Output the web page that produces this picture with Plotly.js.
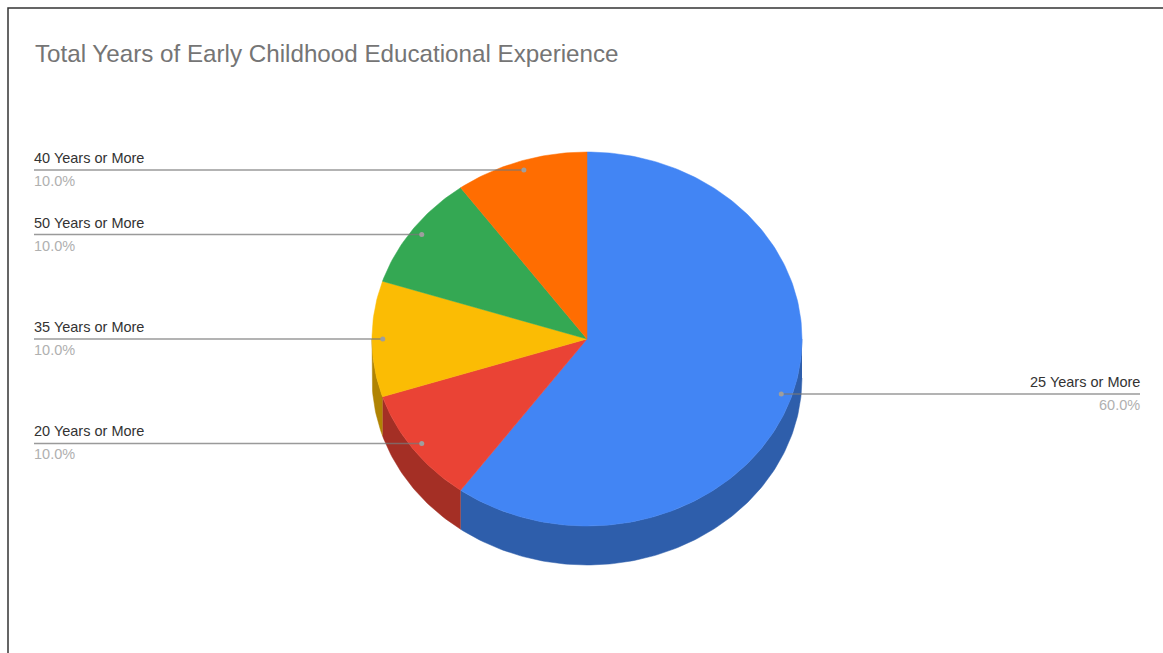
<!DOCTYPE html>
<html>
<head>
<meta charset="utf-8">
<script src="https://cdn.plot.ly/plotly-3.0.1.min.js"></script>
<style>html,body{margin:0;padding:0;background:#fff}#chart{width:1163px;height:653px}</style>
</head>
<body>
<div id="chart"></div>
<script>
// Share of respondents per experience band, clockwise from 12 o'clock.
const categories = ['25 Years or More', '20 Years or More', '35 Years or More', '50 Years or More', '40 Years or More'];
const shares = [60, 10, 10, 10, 10];
const topColors = ['#4285f4', '#ea4335', '#fbbc04', '#34a853', '#ff6d01'];
const wallColors = ['#2e5eab', '#a42f25', '#b08303', '#24753a', '#b34c01'];
const titleText = 'Total Years of Early Childhood Educational Experience';

// Tilted pie geometry, in plot units (the axes map 1:1 to the canvas).
const cx = 587, cy = 339, rx = 215, ry = 187, depth = 39;
const leaderPos = 0.95;      // where a leader dot sits along the radius
const labelLeft = 34, labelRight = 1140;

const total = shares.reduce((a, b) => a + b, 0);
const rimX = (deg, f = 1) => cx + f * rx * Math.sin(deg * Math.PI / 180);
const rimY = (deg, f = 1) => cy - f * ry * Math.cos(deg * Math.PI / 180);

function arc(a, b, drop = 0) {
  const xs = [], ys = [];
  const n = Math.max(2, Math.ceil(Math.abs(b - a)));
  for (let i = 0; i <= n; i++) {
    const d = a + (b - a) * i / n;
    xs.push(rimX(d));
    ys.push(rimY(d) + drop);
  }
  return [xs, ys];
}

const walls = [], faces = [], leaders = [], annotations = [];
let start = 0;
shares.forEach((v, i) => {
  const end = start + v / total * 360;

  // Side wall: only the front half of the rim (90..270 degrees) is visible.
  const a = Math.max(start, 90), b = Math.min(end, 270);
  if (b > a) {
    const [tx, ty] = arc(a, b);
    const [lx, ly] = arc(b, a, depth);
    walls.push({
      type: 'scatter', mode: 'lines', x: tx.concat(lx), y: ty.concat(ly),
      fill: 'toself', fillcolor: wallColors[i], line: {color: wallColors[i], width: 0.5},
      hoverinfo: 'skip', showlegend: false
    });
  }

  // Top face of the slice.
  const [fx, fy] = arc(start, end);
  faces.push({
    type: 'scatter', mode: 'lines', name: categories[i],
    x: [cx].concat(fx, [cx]), y: [cy].concat(fy, [cy]),
    fill: 'toself', fillcolor: topColors[i], line: {color: topColors[i], width: 0.5},
    hoverinfo: 'name', showlegend: false
  });

  // Leader line from the dot out to the label column.
  const mid = (start + end) / 2;
  const dx = rimX(mid, leaderPos), dy = rimY(mid, leaderPos);
  const onRight = mid < 180;
  const edge = onRight ? labelRight : labelLeft;
  leaders.push({
    type: 'scatter', mode: 'lines', x: [edge, dx], y: [dy, dy],
    line: {color: 'rgba(120,120,120,0.75)', width: 1.5},
    hoverinfo: 'skip', showlegend: false
  });
  leaders.push({
    type: 'scatter', mode: 'markers', x: [dx], y: [dy],
    marker: {color: '#9e9e9e', size: 5},
    hoverinfo: 'skip', showlegend: false
  });

  const anchor = onRight ? 'right' : 'left';
  const nudge = onRight ? 2 : -2;   // cancels the annotation box padding
  annotations.push({
    x: edge, y: dy, xref: 'x', yref: 'y', xanchor: anchor, yanchor: 'bottom', yshift: 2, xshift: nudge,
    text: categories[i], showarrow: false,
    font: {family: 'Liberation Sans, Arial, sans-serif', size: 14.5, color: '#333333'}
  });
  annotations.push({
    x: edge, y: dy, xref: 'x', yref: 'y', xanchor: anchor, yanchor: 'top', yshift: -1, xshift: nudge,
    text: (v / total * 100).toFixed(1) + '%', showarrow: false,
    font: {family: 'Liberation Sans, Arial, sans-serif', size: 14.5, color: '#b0b0b0'}
  });
  start = end;
});

annotations.push({
  x: 33, y: 53, xref: 'x', yref: 'y', xanchor: 'left', yanchor: 'middle',
  text: titleText, showarrow: false,
  font: {family: 'Liberation Sans, Arial, sans-serif', size: 24.2, color: '#757575'}
});

// Frame around the chart: top and left edges.
const frame = {
  type: 'scatter', mode: 'lines', x: [8, 8, 1163], y: [653, 8, 8],
  line: {color: '#333333', width: 1.5}, hoverinfo: 'skip', showlegend: false
};

const hiddenAxis = {visible: false, fixedrange: true};
Plotly.newPlot('chart', walls.concat(faces, leaders, [frame]), {
  width: 1163, height: 653,
  margin: {l: 0, r: 0, t: 0, b: 0},
  paper_bgcolor: '#ffffff', plot_bgcolor: '#ffffff',
  xaxis: Object.assign({range: [0, 1163]}, hiddenAxis),
  yaxis: Object.assign({range: [653, 0]}, hiddenAxis),
  annotations: annotations,
  showlegend: false
}, {displayModeBar: false, staticPlot: true});
</script>
</body>
</html>
